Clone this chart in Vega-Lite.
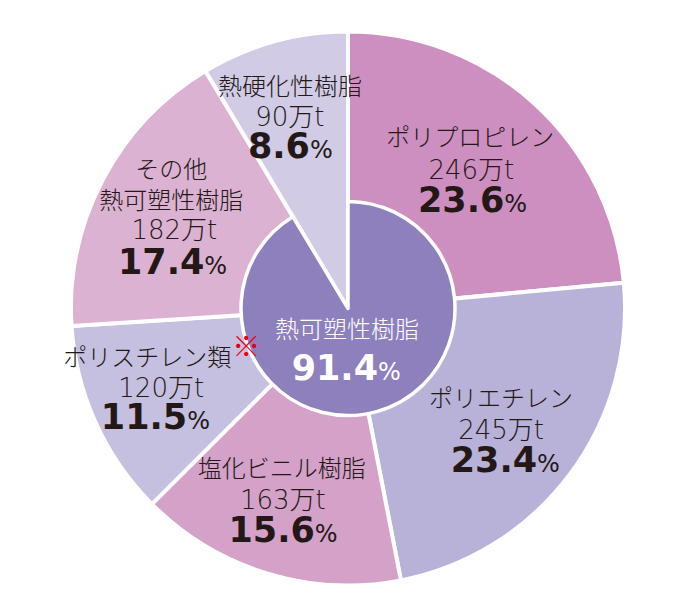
{
  "$schema": "https://vega.github.io/schema/vega-lite/v6.json",
  "width": 684,
  "height": 613,
  "autosize": {"type": "none"},
  "padding": {"left": 6, "top": 2, "right": 0, "bottom": 0},
  "background": "white",
  "config": {"view": {"stroke": null}},
  "datasets": {
    "outer": [
      {"idx": 0, "name": "ポリプロピレン", "label": "ポリプロピレン", "t": 246, "amount": "246万t", "pct": "23.6"},
      {"idx": 1, "name": "ポリエチレン", "label": "ポリエチレン", "t": 245, "amount": "245万t", "pct": "23.4"},
      {"idx": 2, "name": "塩化ビニル樹脂", "label": "塩化ビニル樹脂", "t": 163, "amount": "163万t", "pct": "15.6"},
      {"idx": 3, "name": "ポリスチレン類", "label": "ポリスチレン類", "t": 120, "amount": "120万t", "pct": "11.5"},
      {"idx": 4, "name": "その他熱可塑性樹脂", "label": "その他\n熱可塑性樹脂", "t": 182, "amount": "182万t", "pct": "17.4"},
      {"idx": 5, "name": "熱硬化性樹脂", "label": "熱硬化性樹脂", "t": 90, "amount": "90万t", "pct": "8.6"}
    ],
    "inner": [
      {"idx": 0, "name": "熱可塑性樹脂", "t": 956, "pct": "91.4"},
      {"idx": 1, "name": "熱硬化性樹脂", "t": 90, "pct": "8.6"}
    ]
  },
  "encoding": {
    "theta": {"field": "t", "type": "quantitative", "stack": true},
    "order": {"field": "idx", "type": "quantitative"},
    "detail": {"field": "name", "type": "nominal"}
  },
  "layer": [
    {
      "data": {"name": "outer"},
      "mark": {"type": "arc", "outerRadius": 277, "innerRadius": 0, "stroke": "white", "strokeWidth": 4, "strokeJoin": "round"},
      "encoding": {
        "color": {"field": "name", "type": "nominal", "legend": null,
          "scale": {"domain": ["ポリプロピレン", "ポリエチレン", "塩化ビニル樹脂", "ポリスチレン類", "その他熱可塑性樹脂", "熱硬化性樹脂"],
                    "range": ["#cd8fbf", "#b9b2d8", "#d4a1c8", "#c6c0e0", "#dcb2d2", "#d1cbe6"]}}
      }
    },
    {
      "data": {"name": "inner"},
      "mark": {"type": "arc", "outerRadius": 107, "innerRadius": 0, "stroke": "white", "strokeWidth": 3.5, "strokeJoin": "round", "fill": "#8d80bc"},
      "encoding": {
        "opacity": {"condition": {"test": "datum.idx === 1", "value": 0}, "value": 1}
      }
    },

    {"data": {"name": "outer"}, "mark": {"type": "text", "font": "Noto Sans CJK JP", "fontWeight": 300, "fontSize": 24, "color": "#231815", "baseline": "middle", "align": "center", "lineBreak": "\n", "lineHeight": 31, "dx": -9, "dy": -25},
     "encoding": {"radius": {"value": 195}, "text": {"condition": {"test": "datum.idx === 0", "field": "label", "type": "nominal"}, "value": ""}}},
    {"data": {"name": "outer"}, "mark": {"type": "text", "font": "DejaVu Sans, Noto Sans CJK JP", "fontWeight": 300, "fontSize": 26, "color": "#231815", "baseline": "middle", "align": "center", "dx": -8, "dy": 7},
     "encoding": {"radius": {"value": 195}, "text": {"condition": {"test": "datum.idx === 0", "field": "amount", "type": "nominal"}, "value": ""}}},
    {"data": {"name": "outer"}, "mark": {"type": "text", "font": "DejaVu Sans", "fontWeight": "bold", "fontSize": 35, "color": "#231815", "baseline": "alphabetic", "align": "right", "dx": 25, "dy": 48},
     "encoding": {"radius": {"value": 195}, "text": {"condition": {"test": "datum.idx === 0", "field": "pct", "type": "nominal"}, "value": ""}}},
    {"data": {"name": "outer"}, "mark": {"type": "text", "font": "DejaVu Sans", "fontSize": 24, "color": "#231815", "baseline": "alphabetic", "align": "left", "dx": 25, "dy": 48},
     "encoding": {"radius": {"value": 195}, "text": {"condition": {"test": "datum.idx === 0", "value": "%"}, "value": ""}}},

    {"data": {"name": "outer"}, "mark": {"type": "text", "font": "Noto Sans CJK JP", "fontWeight": 300, "fontSize": 24, "color": "#231815", "baseline": "middle", "align": "center", "lineBreak": "\n", "lineHeight": 31, "dx": -3, "dy": -25},
     "encoding": {"radius": {"value": 195}, "text": {"condition": {"test": "datum.idx === 1", "field": "label", "type": "nominal"}, "value": ""}}},
    {"data": {"name": "outer"}, "mark": {"type": "text", "font": "DejaVu Sans, Noto Sans CJK JP", "fontWeight": 300, "fontSize": 26, "color": "#231815", "baseline": "middle", "align": "center", "dx": -3, "dy": 6},
     "encoding": {"radius": {"value": 195}, "text": {"condition": {"test": "datum.idx === 1", "field": "amount", "type": "nominal"}, "value": ""}}},
    {"data": {"name": "outer"}, "mark": {"type": "text", "font": "DejaVu Sans", "fontWeight": "bold", "fontSize": 35, "color": "#231815", "baseline": "alphabetic", "align": "right", "dx": 33, "dy": 47},
     "encoding": {"radius": {"value": 195}, "text": {"condition": {"test": "datum.idx === 1", "field": "pct", "type": "nominal"}, "value": ""}}},
    {"data": {"name": "outer"}, "mark": {"type": "text", "font": "DejaVu Sans", "fontSize": 24, "color": "#231815", "baseline": "alphabetic", "align": "left", "dx": 33, "dy": 47},
     "encoding": {"radius": {"value": 195}, "text": {"condition": {"test": "datum.idx === 1", "value": "%"}, "value": ""}}},

    {"data": {"name": "outer"}, "mark": {"type": "text", "font": "Noto Sans CJK JP", "fontWeight": 300, "fontSize": 24, "color": "#231815", "baseline": "middle", "align": "center", "lineBreak": "\n", "lineHeight": 31, "dx": -9, "dy": -25},
     "encoding": {"radius": {"value": 195}, "text": {"condition": {"test": "datum.idx === 2", "field": "label", "type": "nominal"}, "value": ""}}},
    {"data": {"name": "outer"}, "mark": {"type": "text", "font": "DejaVu Sans, Noto Sans CJK JP", "fontWeight": 300, "fontSize": 26, "color": "#231815", "baseline": "middle", "align": "center", "dx": -8, "dy": 6},
     "encoding": {"radius": {"value": 195}, "text": {"condition": {"test": "datum.idx === 2", "field": "amount", "type": "nominal"}, "value": ""}}},
    {"data": {"name": "outer"}, "mark": {"type": "text", "font": "DejaVu Sans", "fontWeight": "bold", "fontSize": 35, "color": "#231815", "baseline": "alphabetic", "align": "right", "dx": 24, "dy": 47},
     "encoding": {"radius": {"value": 195}, "text": {"condition": {"test": "datum.idx === 2", "field": "pct", "type": "nominal"}, "value": ""}}},
    {"data": {"name": "outer"}, "mark": {"type": "text", "font": "DejaVu Sans", "fontSize": 24, "color": "#231815", "baseline": "alphabetic", "align": "left", "dx": 24, "dy": 47},
     "encoding": {"radius": {"value": 195}, "text": {"condition": {"test": "datum.idx === 2", "value": "%"}, "value": ""}}},

    {"data": {"name": "outer"}, "mark": {"type": "text", "font": "Noto Sans CJK JP", "fontWeight": 300, "fontSize": 24, "color": "#231815", "baseline": "middle", "align": "center", "lineBreak": "\n", "lineHeight": 31, "dx": -23, "dy": -30},
     "encoding": {"radius": {"value": 195}, "text": {"condition": {"test": "datum.idx === 3", "field": "label", "type": "nominal"}, "value": ""}}},
    {"data": {"name": "outer"}, "mark": {"type": "text", "font": "DejaVu Sans, Noto Sans CJK JP", "fontWeight": 300, "fontSize": 26, "color": "#231815", "baseline": "middle", "align": "center", "dx": -9, "dy": 0},
     "encoding": {"radius": {"value": 195}, "text": {"condition": {"test": "datum.idx === 3", "field": "amount", "type": "nominal"}, "value": ""}}},
    {"data": {"name": "outer"}, "mark": {"type": "text", "font": "DejaVu Sans", "fontWeight": "bold", "fontSize": 35, "color": "#231815", "baseline": "alphabetic", "align": "right", "dx": 17, "dy": 40},
     "encoding": {"radius": {"value": 195}, "text": {"condition": {"test": "datum.idx === 3", "field": "pct", "type": "nominal"}, "value": ""}}},
    {"data": {"name": "outer"}, "mark": {"type": "text", "font": "DejaVu Sans", "fontSize": 24, "color": "#231815", "baseline": "alphabetic", "align": "left", "dx": 17, "dy": 40},
     "encoding": {"radius": {"value": 195}, "text": {"condition": {"test": "datum.idx === 3", "value": "%"}, "value": ""}}},
    {"data": {"name": "outer"}, "mark": {"type": "text", "font": "Noto Sans CJK JP", "fontWeight": "bold", "fontSize": 28, "color": "#e60012", "baseline": "middle", "align": "center", "dx": 76, "dy": -40},
     "encoding": {"radius": {"value": 195}, "text": {"condition": {"test": "datum.idx === 3", "value": "※"}, "value": ""}}},

    {"data": {"name": "outer"}, "mark": {"type": "text", "font": "Noto Sans CJK JP", "fontWeight": 300, "fontSize": 24, "color": "#231815", "baseline": "middle", "align": "center", "lineBreak": "\n", "lineHeight": 31, "dx": -4, "dy": -47},
     "encoding": {"radius": {"value": 195}, "text": {"condition": {"test": "datum.idx === 4", "field": "label", "type": "nominal"}, "value": ""}}},
    {"data": {"name": "outer"}, "mark": {"type": "text", "font": "DejaVu Sans, Noto Sans CJK JP", "fontWeight": 300, "fontSize": 26, "color": "#231815", "baseline": "middle", "align": "center", "dx": -1, "dy": 13},
     "encoding": {"radius": {"value": 195}, "text": {"condition": {"test": "datum.idx === 4", "field": "amount", "type": "nominal"}, "value": ""}}},
    {"data": {"name": "outer"}, "mark": {"type": "text", "font": "DejaVu Sans", "fontWeight": "bold", "fontSize": 35, "color": "#231815", "baseline": "alphabetic", "align": "right", "dx": 29, "dy": 56},
     "encoding": {"radius": {"value": 195}, "text": {"condition": {"test": "datum.idx === 4", "field": "pct", "type": "nominal"}, "value": ""}}},
    {"data": {"name": "outer"}, "mark": {"type": "text", "font": "DejaVu Sans", "fontSize": 24, "color": "#231815", "baseline": "alphabetic", "align": "left", "dx": 29, "dy": 56},
     "encoding": {"radius": {"value": 195}, "text": {"condition": {"test": "datum.idx === 4", "value": "%"}, "value": ""}}},

    {"data": {"name": "outer"}, "mark": {"type": "text", "font": "Noto Sans CJK JP", "fontWeight": 300, "fontSize": 24, "color": "#231815", "baseline": "middle", "align": "center", "lineBreak": "\n", "lineHeight": 31, "dx": -6, "dy": -33},
     "encoding": {"radius": {"value": 195}, "text": {"condition": {"test": "datum.idx === 5", "field": "label", "type": "nominal"}, "value": ""}}},
    {"data": {"name": "outer"}, "mark": {"type": "text", "font": "DejaVu Sans, Noto Sans CJK JP", "fontWeight": 300, "fontSize": 26, "color": "#231815", "baseline": "middle", "align": "center", "dx": -6, "dy": -3},
     "encoding": {"radius": {"value": 195}, "text": {"condition": {"test": "datum.idx === 5", "field": "amount", "type": "nominal"}, "value": ""}}},
    {"data": {"name": "outer"}, "mark": {"type": "text", "font": "DejaVu Sans", "fontWeight": "bold", "fontSize": 35, "color": "#231815", "baseline": "alphabetic", "align": "right", "dx": 14, "dy": 37},
     "encoding": {"radius": {"value": 195}, "text": {"condition": {"test": "datum.idx === 5", "field": "pct", "type": "nominal"}, "value": ""}}},
    {"data": {"name": "outer"}, "mark": {"type": "text", "font": "DejaVu Sans", "fontSize": 24, "color": "#231815", "baseline": "alphabetic", "align": "left", "dx": 14, "dy": 37},
     "encoding": {"radius": {"value": 195}, "text": {"condition": {"test": "datum.idx === 5", "value": "%"}, "value": ""}}},

    {"data": {"name": "inner"}, "mark": {"type": "text", "font": "Noto Sans CJK JP", "fontWeight": 300, "fontSize": 24, "color": "white", "baseline": "middle", "align": "center", "dx": -1, "dy": 22},
     "encoding": {"radius": {"value": 0}, "text": {"condition": {"test": "datum.idx === 0", "field": "name", "type": "nominal"}, "value": ""}}},
    {"data": {"name": "inner"}, "mark": {"type": "text", "font": "DejaVu Sans", "fontWeight": "bold", "fontSize": 35, "color": "white", "baseline": "alphabetic", "align": "right", "dx": 30, "dy": 71},
     "encoding": {"radius": {"value": 0}, "text": {"condition": {"test": "datum.idx === 0", "field": "pct", "type": "nominal"}, "value": ""}}},
    {"data": {"name": "inner"}, "mark": {"type": "text", "font": "DejaVu Sans", "fontSize": 24, "color": "white", "baseline": "alphabetic", "align": "left", "dx": 30, "dy": 71},
     "encoding": {"radius": {"value": 0}, "text": {"condition": {"test": "datum.idx === 0", "value": "%"}, "value": ""}}}
  ]
}
